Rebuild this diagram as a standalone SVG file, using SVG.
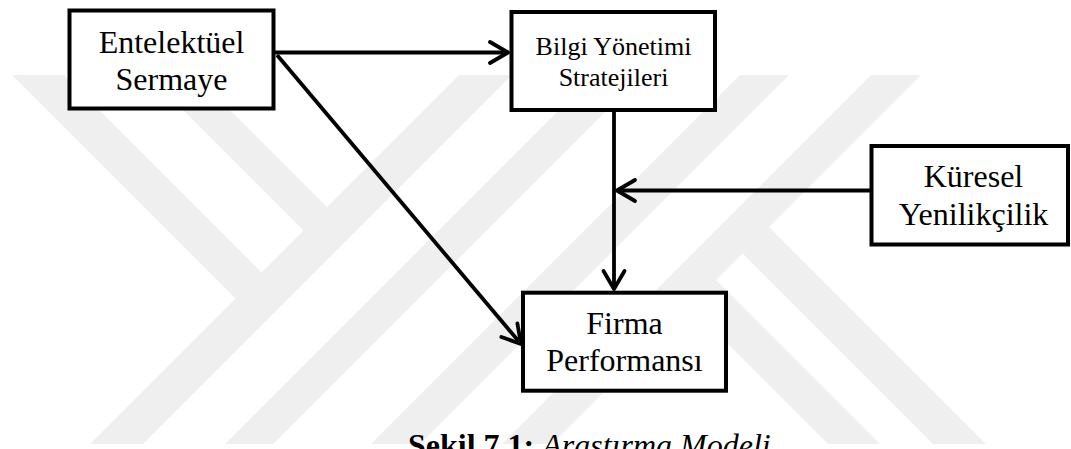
<svg xmlns="http://www.w3.org/2000/svg" width="1071" height="449" viewBox="0 0 1071 449">
  <style>
    .wm { fill: #efefef; stroke: none; }
    .box { fill: #ffffff; stroke: #000000; stroke-width: 4; }
    .lbl { font-family: 'Liberation Serif', 'Times New Roman', Times, 'DejaVu Serif', serif; font-size: 32px; fill: #000000; text-anchor: middle; }
    .lbl-s { font-size: 26px; }
    .conn { fill: none; stroke: #000000; stroke-width: 3.8; }
    .cap { font-family: 'Liberation Serif', 'Times New Roman', Times, 'DejaVu Serif', serif; font-size: 32px; fill: #000000; }
  </style>
  <defs>
    <marker id="arrow" viewBox="-22 -14 26 28" refX="0" refY="0" markerWidth="26" markerHeight="28" markerUnits="userSpaceOnUse" orient="auto" overflow="visible">
      <path d="M-18,-10.5 L0,0 L-18,10.5" fill="none" stroke="#000000" stroke-width="3.8" stroke-linejoin="round" stroke-linecap="round"/>
    </marker>
  </defs>
  <rect width="1071" height="449" fill="#ffffff"/>
  <g id="watermark">
    <polygon class="wm" points="12,75 64,75 261.5,272.5 235.5,298.5"/>
    <polygon class="wm" points="148,75 195,75 327,207 303.5,230.5"/>
    <polygon class="wm" points="459,75 512,75 143,444 90,444"/>
    <polygon class="wm" points="594,75 642,75 273,444 225,444"/>
    <polygon class="wm" points="740,75 789,75 420,444 371,444"/>
    <polygon class="wm" points="871,75 921,75 552,444 502,444"/>
    <polygon class="wm" points="716,280 880,444 828,444 690,306"/>
    <polygon class="wm" points="769,227 986,444 933,444 742.5,253.5"/>
  </g>
  <g id="connectors">
    <line class="conn" x1="274" y1="52.5" x2="508" y2="52.5" marker-end="url(#arrow)"/>
    <line class="conn" x1="277" y1="55" x2="521" y2="344" marker-end="url(#arrow)"/>
    <line class="conn" x1="614" y1="110" x2="614" y2="289" marker-end="url(#arrow)"/>
    <line class="conn" x1="870" y1="190.5" x2="617" y2="190.5" marker-end="url(#arrow)"/>
  </g>
  <g id="node-entelektuel">
    <rect class="box" x="69.5" y="10.5" width="204" height="98"/>
    <text class="lbl" font-family="Liberation Serif, serif"><tspan x="171.5" y="52.5">Entelektüel</tspan><tspan x="171.5" y="89.5">Sermaye</tspan></text>
  </g>
  <g id="node-bilgi">
    <rect class="box" x="511.5" y="12" width="203.5" height="98"/>
    <text class="lbl lbl-s" font-family="Liberation Serif, serif"><tspan x="613.5" y="55">Bilgi Yönetimi</tspan><tspan x="613.5" y="86">Stratejileri</tspan></text>
  </g>
  <g id="node-kuresel">
    <rect class="box" x="871.5" y="146" width="196.5" height="98.5"/>
    <text class="lbl" font-family="Liberation Serif, serif"><tspan x="973.5" y="187">Küresel</tspan><tspan x="973.5" y="225">Yenilikçilik</tspan></text>
  </g>
  <g id="node-firma">
    <rect class="box" x="523" y="292.7" width="203" height="98"/>
    <text class="lbl" font-family="Liberation Serif, serif"><tspan x="624.5" y="334">Firma</tspan><tspan x="624.5" y="371">Performansı</tspan></text>
  </g>
  <g id="caption">
    <text class="cap" font-family="Liberation Serif, serif" x="408" y="456"><tspan font-weight="bold">Şekil 7.1:</tspan> <tspan font-style="italic">Araştırma Modeli</tspan></text>
  </g>
</svg>
